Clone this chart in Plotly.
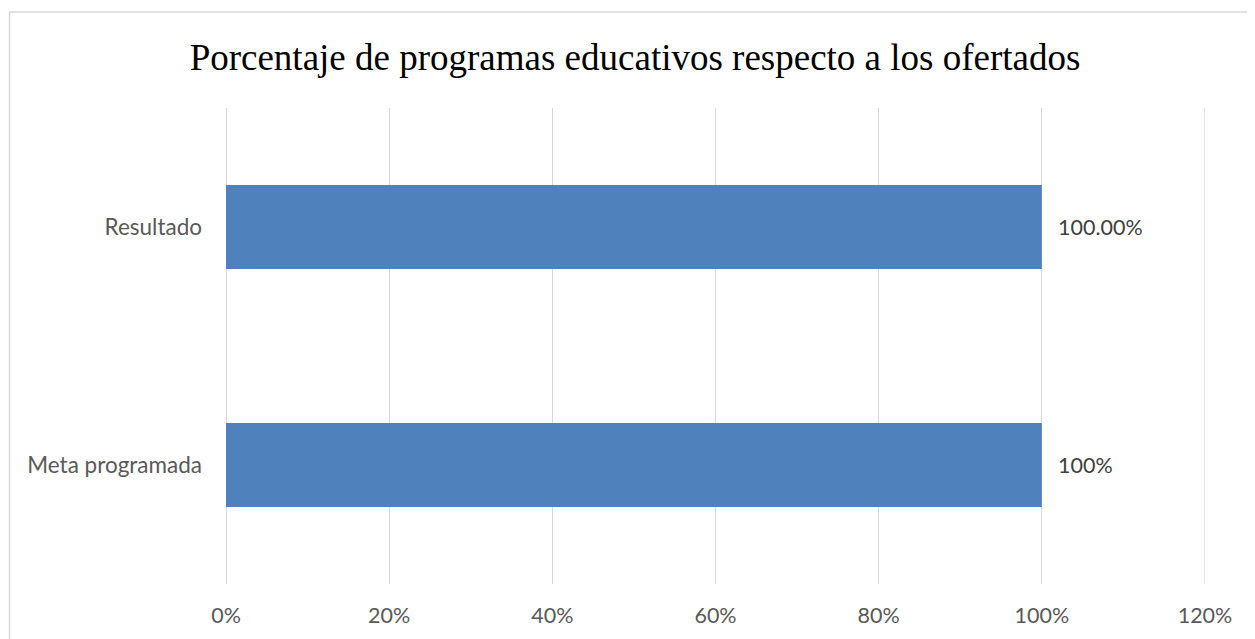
import plotly.graph_objects as go

categories = ["Meta programada", "Resultado"]
values = [1.0, 1.0]
value_labels = ["100%", "100.00%"]
tick_values = [0, 0.2, 0.4, 0.6, 0.8, 1.0, 1.2]
tick_labels = ["0%", "20%", "40%", "60%", "80%", "100%", "120%"]
title_text = "Porcentaje de programas educativos respecto a los ofertados"

# page body has an 8px margin; figure is sized to fit the window
W, H = 1247, 631
L, R, T, B = 218, 50, 100, 55
PW, PH = W - L - R, H - T - B
GRID = "#D9D9D9"

fig = go.Figure()
fig.add_trace(go.Bar(
    y=categories, x=values, orientation="h",
    marker=dict(color="#4F81BD", line=dict(width=0)),
    width=0.353, hoverinfo="skip",
))

for c, v, t in zip(categories, values, value_labels):
    fig.add_annotation(x=v, y=c, text=t, showarrow=False, xanchor="left",
                       xshift=14, font=dict(family="Lato", size=21.5, color="#404040"))

shapes = [
    # last gridline sits on the plot edge, draw it explicitly
    dict(type="line", xref="x", yref="paper", x0=tick_values[-1], x1=tick_values[-1],
         y0=0, y1=1, line=dict(color=GRID, width=1.3), layer="below"),
    # chart border (right/bottom run off the window)
    dict(type="rect", xref="paper", yref="paper",
         x0=(1.5 - L) / PW, x1=(1265 - L) / PW,
         y0=-1, y1=1 + (T - 4) / PH,
         line=dict(color=GRID, width=1.5), fillcolor="rgba(0,0,0,0)", layer="below"),
]

fig.update_layout(
    width=W, height=H,
    margin=dict(l=L, r=R, t=T, b=B),
    paper_bgcolor="white", plot_bgcolor="white",
    showlegend=False,
    title=dict(text=title_text, x=627 / W, xanchor="center", y=1 - 49 / H, yanchor="middle",
               font=dict(family="Liberation Serif", size=37, color="black")),
    xaxis=dict(range=[0, 1.2], tickvals=tick_values, ticktext=tick_labels,
               showgrid=True, gridcolor=GRID, gridwidth=1.3,
               zeroline=True, zerolinecolor=GRID, zerolinewidth=1.3,
               showline=False, ticks="",
               tickfont=dict(family="Lato", size=21.5, color="#595959"),
               ticklabelstandoff=16),
    yaxis=dict(showgrid=False, zeroline=False, showline=False, ticks="",
               tickfont=dict(family="Lato", size=22.5, color="#595959"),
               ticklabelstandoff=23),
    shapes=shapes,
)

fig.write_html("out.html")
